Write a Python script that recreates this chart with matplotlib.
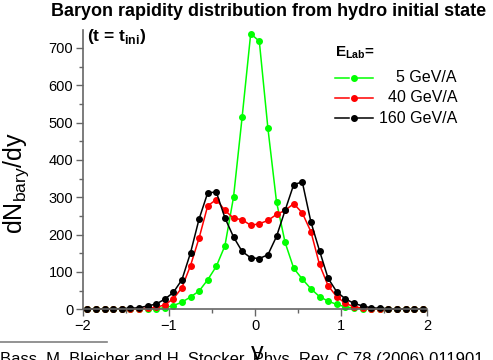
import matplotlib
matplotlib.use("Agg")
import matplotlib.pyplot as plt
from matplotlib.lines import Line2D
from matplotlib.ticker import MultipleLocator

plt.rcParams['font.family'] = ['Liberation Sans', 'DejaVu Sans']
plt.rcParams['mathtext.fontset'] = 'custom'
plt.rcParams['mathtext.rm'] = 'Liberation Sans'
plt.rcParams['mathtext.bf'] = 'Liberation Sans:bold'

rapidity = [-1.95, -1.85, -1.75, -1.65, -1.55, -1.45, -1.35, -1.25, -1.15, -1.05,
            -0.95, -0.85, -0.75, -0.65, -0.55, -0.45, -0.35, -0.25, -0.15, -0.05,
            0.05, 0.15, 0.25, 0.35, 0.45, 0.55, 0.65, 0.75, 0.85, 0.95,
            1.05, 1.15, 1.25, 1.35, 1.45, 1.55, 1.65, 1.75, 1.85, 1.95]

dn_5 = [0, 0, 0, 0, 0, 0, 0.5, 1, 2, 4,
        10, 19, 33, 49, 79, 115, 170, 300, 514, 738,
        718, 485, 288, 179, 110, 81, 55, 34, 22, 13,
        7, 3, 2, 1, 0, 0, 0, 0, 0, 0]

dn_40 = [1, 1, 1, 1, 1, 1, 2, 3, 5, 12,
         28, 58, 117, 191, 277, 294, 265, 244, 240, 225,
         229, 238, 254, 265, 283, 258, 208, 120, 63, 34,
         16, 7, 3, 2, 1, 1, 1, 1, 1, 1]

dn_160 = [1, 1, 1, 1, 2, 3, 4, 9, 14, 27,
          45, 79, 151, 242, 312, 314, 245, 194, 155, 138,
          136, 146, 195, 265, 334, 341, 234, 157, 83, 47,
          28, 16, 9, 4, 3, 2, 1, 1, 1, 1]

series = [(dn_5, '#00ff00', '5 GeV/A'),
          (dn_40, '#ff0000', '40 GeV/A'),
          (dn_160, '#000000', '160 GeV/A')]

W, H = 493, 360
fig = plt.figure(figsize=(W / 100, H / 100), dpi=100)


def fx(px):
    return px / W


def fy(py):
    return 1 - py / H


ax = fig.add_axes([fx(83), fy(309.3), fx(427) - fx(83), fy(30) - fy(309.3)])

for vals, col, lab in series:
    ax.plot(rapidity, vals, '-o', color=col, lw=1.1, ms=4.0, clip_on=False)

ax.set_xlim(-2, 2)
ax.set_ylim(0, 748)
ax.xaxis.set_major_locator(MultipleLocator(1))
ax.xaxis.set_minor_locator(MultipleLocator(0.5))
ax.yaxis.set_major_locator(MultipleLocator(100))
ax.yaxis.set_minor_locator(MultipleLocator(50))
for s in ['top', 'right']:
    ax.spines[s].set_visible(False)
spc = '#666666'
for s in ['left', 'bottom']:
    ax.spines[s].set_color(spc)
    ax.spines[s].set_linewidth(1.2)
ax.tick_params(which='major', direction='out', length=5, width=1, color=spc,
               labelsize=10.5, pad=2)
ax.tick_params(which='minor', direction='out', length=3, width=1, color=spc)

# y-axis title
fig.text(fx(16), fy(183), r'dN$_{\mathrm{bary}}$/dy', rotation=90,
         ha='center', va='center', fontsize=18)
# x-axis title (cut at the bottom edge as in the reference)
fig.text(fx(257), fy(359.7), 'y', ha='center', va='baseline', fontsize=18)

fig.text(fx(269), fy(12), 'Baryon rapidity distribution from hydro initial state',
         ha='center', va='center', fontsize=13, fontweight='bold')
fig.text(fx(87), fy(37), r'(t = t$_{\mathbf{ini}}$)', ha='left', va='center',
         fontsize=12.5, fontweight='bold')

# legend
fig.text(fx(335), fy(53), r'E$_{\mathbf{Lab}}$=', ha='left', va='center',
         fontsize=11, fontweight='bold')
rows = [77.7, 97.7, 118.3]
for (vals, col, lab), ry in zip(series, rows):
    fig.add_artist(Line2D([fx(335), fx(349)], [fy(ry), fy(ry)], color=col, lw=1.1))
    fig.add_artist(Line2D([fx(358), fx(373)], [fy(ry), fy(ry)], color=col, lw=1.1))
    fig.add_artist(Line2D([fx(353.7)], [fy(ry)], color=col, marker='o', ms=4.0, lw=0))
    fig.text(fx(457), fy(ry), lab, ha='right', va='center', fontsize=11.5)

# footnote
fig.add_artist(Line2D([0, fx(107)], [fy(342.3), fy(342.3)], color='#808080', lw=1.2))
fig.text(fx(0), fy(364), 'Bass, M. Bleicher and H. Stocker, Phys. Rev. C 78 (2006) 011901',
         ha='left', va='baseline', fontsize=12)

fig.savefig('out.png', dpi=100)
